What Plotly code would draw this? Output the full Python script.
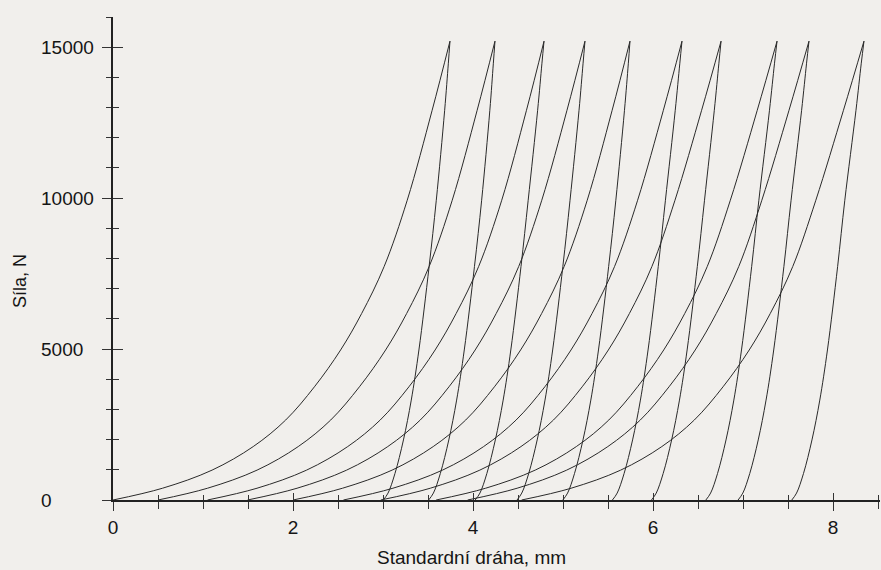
import plotly.graph_objects as go

# Force levels (N) at which the curves were read
load_force = [0, 390, 990, 1770, 2650, 3750, 4970, 6180, 7730, 9930, 12910, 15200]
unload_force = [15200, 14470, 12910, 9930, 7730, 4970, 3310, 1990, 880, 230, 0]

# Displacement (mm) of each loading branch at load_force
load_x = [
    [0.000, 0.550, 1.101, 1.558, 1.919, 2.238, 2.529, 2.763, 3.012, 3.269, 3.546, 3.744],
    [0.500, 1.050, 1.601, 2.058, 2.419, 2.738, 3.029, 3.263, 3.512, 3.769, 4.046, 4.244],
    [1.050, 1.600, 2.151, 2.608, 2.969, 3.288, 3.579, 3.813, 4.062, 4.319, 4.594, 4.789],
    [1.495, 2.045, 2.596, 3.053, 3.414, 3.733, 4.024, 4.258, 4.507, 4.764, 5.044, 5.244],
    [2.000, 2.550, 3.101, 3.558, 3.919, 4.238, 4.529, 4.763, 5.012, 5.269, 5.546, 5.744],
    [2.560, 3.110, 3.661, 4.118, 4.479, 4.798, 5.089, 5.323, 5.572, 5.829, 6.115, 6.322],
    [2.975, 3.525, 4.076, 4.533, 4.894, 5.213, 5.504, 5.738, 5.987, 6.244, 6.540, 6.756],
    [3.590, 4.140, 4.691, 5.148, 5.509, 5.828, 6.119, 6.353, 6.602, 6.859, 7.158, 7.378],
    [3.940, 4.490, 5.041, 5.498, 5.859, 6.178, 6.469, 6.703, 6.952, 7.209, 7.511, 7.733],
    [4.540, 5.090, 5.641, 6.098, 6.459, 6.778, 7.069, 7.303, 7.552, 7.809, 8.116, 8.344],
]

# Displacement (mm) of each unloading branch at unload_force
unload_x = [
    [3.744, 3.726, 3.685, 3.592, 3.512, 3.399, 3.314, 3.227, 3.133, 3.056, 3.003],
    [4.244, 4.226, 4.187, 4.096, 4.016, 3.903, 3.818, 3.731, 3.637, 3.560, 3.507],
    [4.789, 4.766, 4.718, 4.613, 4.533, 4.420, 4.335, 4.248, 4.154, 4.077, 4.024],
    [5.244, 5.223, 5.178, 5.078, 4.998, 4.885, 4.800, 4.713, 4.619, 4.542, 4.489],
    [5.744, 5.726, 5.683, 5.587, 5.507, 5.394, 5.309, 5.222, 5.128, 5.051, 4.998],
    [6.322, 6.298, 6.247, 6.138, 6.058, 5.945, 5.860, 5.773, 5.679, 5.602, 5.549],
    [6.756, 6.732, 6.681, 6.572, 6.492, 6.379, 6.294, 6.207, 6.113, 6.036, 5.983],
    [7.378, 7.350, 7.294, 7.176, 7.096, 6.983, 6.898, 6.811, 6.717, 6.640, 6.587],
    [7.733, 7.706, 7.651, 7.534, 7.454, 7.341, 7.256, 7.169, 7.075, 6.998, 6.945],
    [8.344, 8.314, 8.255, 8.131, 8.051, 7.938, 7.853, 7.766, 7.672, 7.595, 7.542],
]

y_ticks = [0, 5000, 10000, 15000]
y_tick_text = ["0", "5000", "10000", "15000"]
x_title = "Standardní dráha, mm"
y_title = "Síla, N"

BG = "#f1efec"
INK = "#2a2a2a"
FONT = "Liberation Sans, Arial, sans-serif"

fig = go.Figure()
for lx, ux in zip(load_x, unload_x):
    # loading branch on the main axes
    fig.add_trace(go.Scatter(
        x=lx, y=load_force, mode="lines",
        line=dict(color=INK, width=1, shape="spline", smoothing=1.0),
        hoverinfo="skip", showlegend=False,
    ))
    # unloading branch on the overlaid (identical-range) axes
    fig.add_trace(go.Scatter(
        x=ux, y=unload_force, mode="lines", xaxis="x2", yaxis="y2",
        line=dict(color=INK, width=1, shape="spline", smoothing=1.0),
        hoverinfo="skip", showlegend=False,
    ))

common = dict(showgrid=False, zeroline=False, fixedrange=True)
fig.update_layout(
    width=881, height=570,
    margin=dict(l=113, r=1, t=17, b=70, autoexpand=False),
    paper_bgcolor=BG, plot_bgcolor=BG,
    font=dict(family=FONT, size=19, color="#151515"),
    xaxis=dict(range=[0, 8.522], tick0=0, dtick=2, showline=True,
               linecolor="#222", linewidth=2, ticks="outside", ticklen=9,
               tickwidth=1.3, tickcolor="#333", tickfont=dict(size=19),
               minor=dict(dtick=0.5, ticks="outside", ticklen=7,
                          tickwidth=1.2, tickcolor="#333"), **common),
    xaxis2=dict(range=[0, 8.522], tick0=0, dtick=2, overlaying="x",
                anchor="y2", side="bottom", showline=False, ticks="inside",
                ticklen=7, tickwidth=1.3, tickcolor="#333",
                showticklabels=False,
                minor=dict(dtick=0.5, ticks="inside", ticklen=5,
                           tickwidth=1.2, tickcolor="#333"), **common),
    yaxis=dict(range=[0, 16000], tick0=0, dtick=5000, showline=True,
               linecolor="#222", linewidth=1.5, ticks="outside", ticklen=9,
               tickwidth=1.3, tickcolor="#333", showticklabels=False,
               minor=dict(dtick=1000, ticks="outside", ticklen=5,
                          tickwidth=1.2, tickcolor="#333"), **common),
    yaxis2=dict(range=[0, 16000], tick0=0, dtick=5000, overlaying="y",
                anchor="x2", side="left", showline=False, ticks="inside",
                ticklen=10, tickwidth=1.3, tickcolor="#333",
                showticklabels=False,
                minor=dict(dtick=1000, ticks="inside", ticklen=6,
                           tickwidth=1.2, tickcolor="#333"), **common),
)

for v, t in zip(y_ticks, y_tick_text):
    fig.add_annotation(text=t, xref="paper", x=0, xshift=-74, xanchor="left",
                       yref="y", y=v, yanchor="middle", showarrow=False,
                       font=dict(size=19))

fig.add_annotation(text=x_title, xref="paper", x=0.4668, xanchor="center",
                   yref="paper", y=-0.120, yanchor="middle", showarrow=False,
                   font=dict(size=19))
fig.add_annotation(text=y_title, xref="paper", x=-0.1213, xanchor="center",
                   yref="paper", y=0.4534, yanchor="middle", showarrow=False,
                   textangle=-90, font=dict(size=18))

fig.write_html(
    "out.html",
    config={"displayModeBar": False},
    post_script="document.body.style.margin='0';"
                "document.body.style.overflow='hidden';",
)
